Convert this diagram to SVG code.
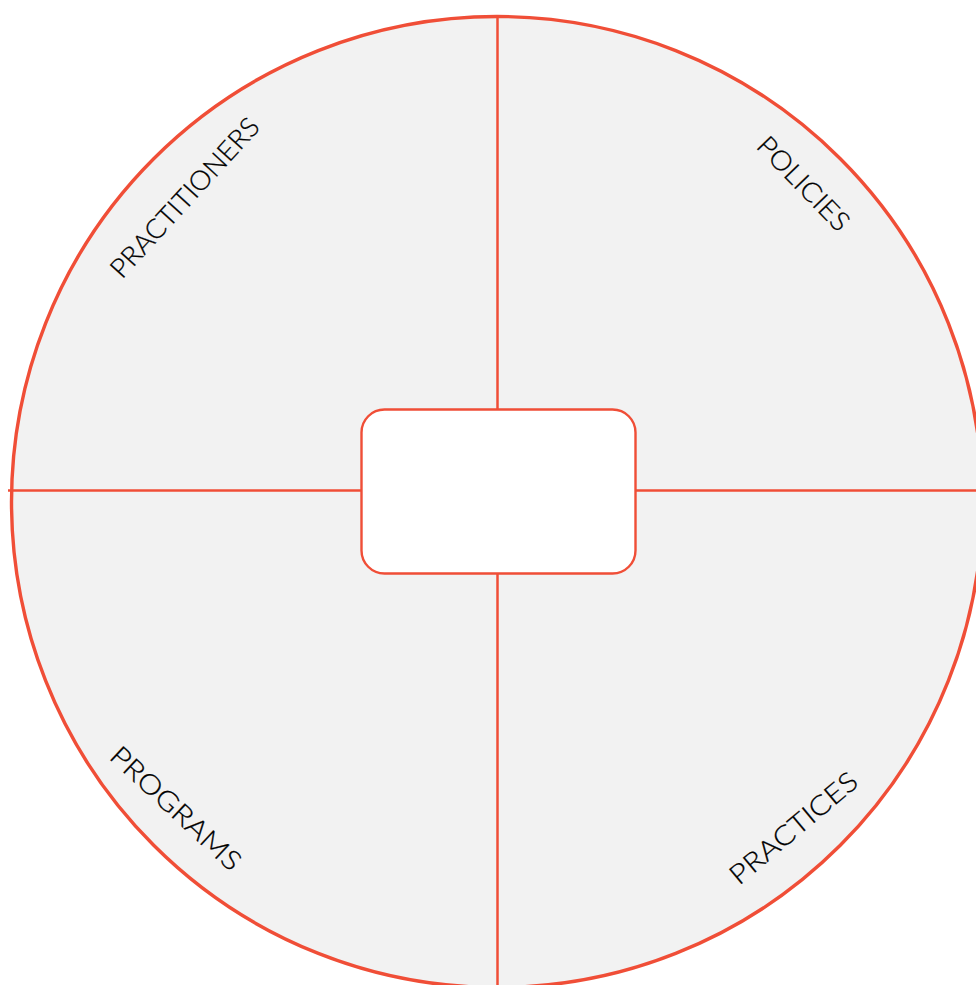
<svg xmlns="http://www.w3.org/2000/svg" width="976" height="985" viewBox="0 0 976 985">
<style>
.ring{fill:#f2f2f2;stroke:#f04e37;stroke-width:3.4}
.div{stroke:#f04e37;stroke-width:2.5;fill:none}
.box{fill:#ffffff;stroke:#f04e37;stroke-width:2.4}
.lbl{font-family:Lato,"Liberation Sans",sans-serif;font-weight:300;font-size:27px;fill:#000;stroke:#000;stroke-width:0.25}
</style>
<rect width="976" height="985" fill="#ffffff"/>
<g id="wheel">
<circle class="ring" cx="497" cy="502" r="485.5"/>
</g>
<g id="connectors">
<line class="div" x1="497.5" y1="18" x2="497.5" y2="409"/>
<line class="div" x1="497.5" y1="573" x2="497.5" y2="985"/>
<line class="div" x1="8" y1="490.5" x2="361" y2="490.5"/>
<line class="div" x1="636" y1="490.5" x2="976" y2="490.5"/>
</g>
<g id="center">
<rect class="box" x="361.5" y="409.5" width="274" height="164" rx="23"/>
</g>
<g id="practitioners">
<text class="lbl" transform="translate(122 280) rotate(-47.5)" textLength="206" lengthAdjust="spacingAndGlyphs">PRACTITIONERS</text>
</g>
<g id="policies">
<text class="lbl" transform="translate(755 147) rotate(46)" textLength="120" lengthAdjust="spacingAndGlyphs">POLICIES</text>
</g>
<g id="programs">
<text class="lbl" transform="translate(108 758) rotate(43)" textLength="168" lengthAdjust="spacingAndGlyphs">PROGRAMS</text>
</g>
<g id="practices">
<text class="lbl" transform="translate(739 886) rotate(-40)" textLength="158" lengthAdjust="spacingAndGlyphs">PRACTICES</text>
</g>
</svg>
